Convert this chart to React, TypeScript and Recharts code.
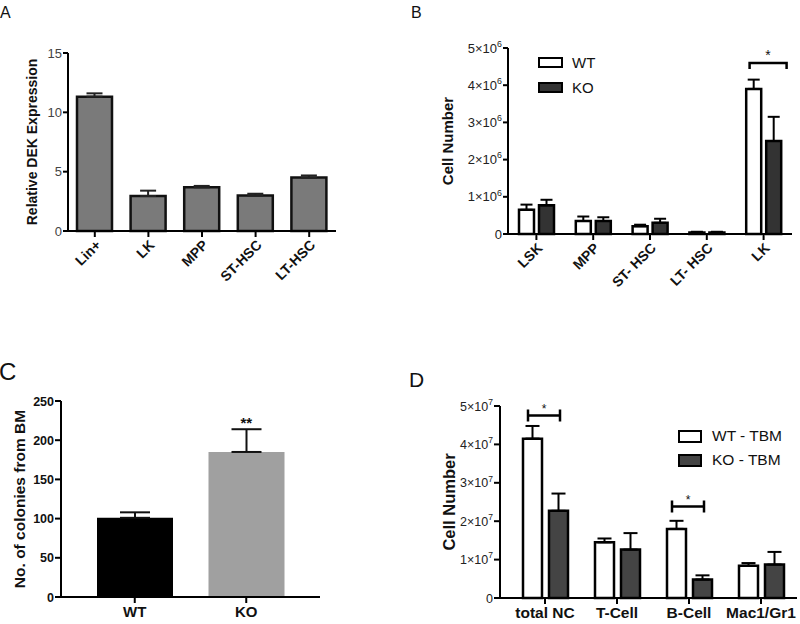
import React from "react";
import { BarChart, Bar, XAxis, YAxis, ErrorBar, Cell, Legend, ReferenceDot } from "recharts";

const FONT = "'Liberation Sans', Arial, Helvetica, sans-serif";

// Panel A - relative DEK expression
const aCategories = ["Lin+", "LK", "MPP", "ST-HSC", "LT-HSC"];
const aValues = [11.32, 2.95, 3.68, 3.0, 4.5];
const aErrors = [0.28, 0.45, 0.12, 0.14, 0.18];
const aTicks = [0, 5, 10, 15];

// Panel B - cell numbers WT vs KO
const bCategories = ["LSK", "MPP", "ST- HSC", "LT- HSC", "LK"];
const bSeries = ["WT", "KO"];
const bWT = [650000, 350000, 210000, 40000, 3900000];
const bWTErr = [140000, 120000, 40000, 20000, 250000];
const bKO = [770000, 350000, 300000, 40000, 2500000];
const bKOErr = [150000, 100000, 110000, 20000, 650000];
const bTicks = [0, 1e6, 2e6, 3e6, 4e6, 5e6];
const bSig = [{ category: "LK", y: 4.6e6, label: "*" }];

// Panel C - colonies from BM
const cCategories = ["WT", "KO"];
const cValues = [101, 185];
const cErrors = [7, 29];
const cColors = ["#000000", "#a0a0a0"];
const cTicks = [0, 50, 100, 150, 200, 250];
const cSig = [{ category: "KO", label: "**" }];

// Panel D - total BM cell numbers
const dCategories = ["total NC", "T-Cell", "B-Cell", "Mac1/Gr1"];
const dSeries = ["WT - TBM", "KO - TBM"];
const dWT = [4.15e7, 1.45e7, 1.8e7, 0.84e7];
const dWTErr = [0.33e7, 0.1e7, 0.21e7, 0.07e7];
const dKO = [2.27e7, 1.26e7, 0.48e7, 0.87e7];
const dKOErr = [0.45e7, 0.43e7, 0.11e7, 0.33e7];
const dTicks = [0, 1e7, 2e7, 3e7, 4e7, 5e7];
const dSig = [
  { category: "total NC", y: 4.75e7, label: "*" },
  { category: "B-Cell", y: 2.38e7, label: "*" },
];

const aData = aCategories.map((name, i) => ({ name, value: aValues[i], err: [0, aErrors[i]] }));
const bData = bCategories.map((name, i) => ({
  name,
  wt: bWT[i],
  wtErr: [0, bWTErr[i]],
  ko: bKO[i],
  koErr: [0, bKOErr[i]],
}));
const cData = cCategories.map((name, i) => ({ name, value: cValues[i], err: [0, cErrors[i]] }));
const dData = dCategories.map((name, i) => ({
  name,
  wt: dWT[i],
  wtErr: [0, dWTErr[i]],
  ko: dKO[i],
  koErr: [0, dKOErr[i]],
}));

const axisLine = { stroke: "#000", strokeWidth: 2 };

function SciTick(props: any) {
  const { x, y, payload, exp, fontSize } = props;
  const v = payload.value;
  const m = Math.round(v / Math.pow(10, exp));
  return (
    <text x={x} y={y} dy={fontSize * 0.36} textAnchor="end" fontFamily={FONT} fontSize={fontSize} fill="#222">
      {v === 0 ? "0" : m + "\u00d710"}
      {v !== 0 && (
        <tspan dy={-fontSize * 0.45} fontSize={fontSize * 0.68}>
          {exp}
        </tspan>
      )}
    </text>
  );
}

function NumTick(props: any) {
  const { x, y, payload, fontSize, bold, fill } = props;
  return (
    <text x={x} y={y} dy={fontSize * 0.36} textAnchor="end" fontFamily={FONT} fontSize={fontSize}
      fontWeight={bold ? "bold" : "normal"} fill={fill}>
      {payload.value}
    </text>
  );
}

function RotTick(props: any) {
  const { x, y, payload, fontSize } = props;
  return (
    <g transform={`translate(${x},${y})`}>
      <text x={0} y={0} dy={fontSize * 0.7} textAnchor="end" transform="rotate(-45)" fontFamily={FONT}
        fontSize={fontSize} fontWeight="bold" fill="#111">
        {payload.value}
      </text>
    </g>
  );
}

function FlatTick(props: any) {
  const { x, y, payload, fontSize } = props;
  return (
    <text x={x} y={y} dy={fontSize * 0.8} textAnchor="middle" fontFamily={FONT} fontSize={fontSize}
      fontWeight="bold" fill="#111">
      {payload.value}
    </text>
  );
}

function BoxLegend(props: any) {
  const { payload, order, boxW, boxH, rowH, fontSize, gap } = props;
  const items = [...(payload || [])].sort((a: any, b: any) => order.indexOf(a.value) - order.indexOf(b.value));
  return (
    <div style={{ fontFamily: FONT, fontSize, color: "#111" }}>
      {items.map((e: any) => (
        <div key={e.value} style={{ display: "flex", alignItems: "center", height: rowH }}>
          <span
            style={{
              display: "inline-block",
              width: boxW,
              height: boxH,
              boxSizing: "border-box",
              border: "2.5px solid #000",
              background: e.payload?.fill ?? e.color,
              marginRight: gap,
            }}
          />
          <span>{e.value}</span>
        </div>
      ))}
    </div>
  );
}

function bracketShape(left: number, right: number, tick: number, kind: "down" | "h", starSize: number, label: string) {
  return (p: any) => {
    const { cx, cy } = p;
    const x1 = cx + left;
    const x2 = cx + right;
    const d =
      kind === "down"
        ? `M${x1},${cy + tick}V${cy}H${x2}V${cy + tick}`
        : `M${x1},${cy - tick}V${cy + tick}M${x1},${cy}H${x2}M${x2},${cy - tick}V${cy + tick}`;
    return (
      <g>
        <path d={d} fill="none" stroke="#000" strokeWidth={2.5} />
        <text x={(x1 + x2) / 2} y={cy - 3} textAnchor="middle" fontFamily={FONT} fontSize={starSize} fill="#111">
          {label}
        </text>
      </g>
    );
  };
}

function starShape(label: string, size: number) {
  return (p: any) => (
    <text x={p.cx} y={p.cy - 1} textAnchor="middle" fontFamily={FONT} fontSize={size} fontWeight="bold" fill="#111">
      {label}
    </text>
  );
}

function yLabel(value: string, offset: number, fontSize: number) {
  return {
    value,
    angle: -90,
    position: "insideLeft" as const,
    offset,
    style: { textAnchor: "middle", fontFamily: FONT, fontSize, fontWeight: "bold", fill: "#111" },
  };
}

const letters = [
  { t: "A", x: 0, y: 18, size: 16 },
  { t: "B", x: 411, y: 18, size: 16 },
  { t: "C", x: -1, y: 380, size: 24 },
  { t: "D", x: 409, y: 387, size: 21 },
];

export default function App() {
  return (
    <div style={{ position: "absolute", left: 0, top: 0, width: 800, height: 624, background: "#fff", overflow: "hidden" }}>
      <div style={{ position: "absolute", left: 0, top: 0 }}>
        <BarChart width={400} height={310} data={aData} margin={{ top: 53, right: 64, bottom: 0, left: 0 }}>
          <XAxis dataKey="name" interval={0} height={79} axisLine={axisLine} tickLine={axisLine} tickSize={6}
            tickMargin={2} tick={(p: any) => <RotTick {...p} fontSize={14} />} />
          <YAxis domain={[0, 15]} ticks={aTicks} interval={0} width={68} axisLine={axisLine} tickLine={axisLine}
            tickSize={5} tickMargin={1} tick={(p: any) => <NumTick {...p} fontSize={13} fill="#444" />}
            label={yLabel("Relative DEK Expression", 32, 14)} />
          <Bar dataKey="value" barSize={35} fill="#7a7a7a" stroke="#111" strokeWidth={2.5} isAnimationActive={false}>
            <ErrorBar dataKey="err" width={8} stroke="#222" strokeWidth={2} direction="y" />
          </Bar>
        </BarChart>
      </div>

      <div style={{ position: "absolute", left: 400, top: 0 }}>
        <BarChart width={400} height={310} data={bData} margin={{ top: 48, right: 8, bottom: 0, left: 0 }}
          barGap={5}>
          <XAxis dataKey="name" interval={0} height={76} axisLine={axisLine} tickLine={axisLine} tickSize={6}
            tickMargin={2} tick={(p: any) => <RotTick {...p} fontSize={14} />} />
          <YAxis domain={[0, 5e6]} ticks={bTicks} interval={0} width={108} axisLine={axisLine} tickLine={axisLine}
            tickSize={5} tickMargin={1} tick={(p: any) => <SciTick {...p} exp={6} fontSize={13} />}
            label={yLabel("Cell Number", 48, 15)} />
          <Legend layout="vertical" align="center" verticalAlign="middle"
            wrapperStyle={{ left: 138, top: 50, width: "auto" }}
            content={(p: any) => <BoxLegend {...p} order={bSeries} boxW={25} boxH={11} rowH={25} fontSize={15} gap={9} />} />
          <Bar dataKey="wt" name={bSeries[0]} barSize={15} fill="#ffffff" stroke="#000" strokeWidth={2.5} isAnimationActive={false}>
            <ErrorBar dataKey="wtErr" width={6} stroke="#000" strokeWidth={2} direction="y" />
          </Bar>
          <Bar dataKey="ko" name={bSeries[1]} barSize={15} fill="#333333" stroke="#000" strokeWidth={2.5} isAnimationActive={false}>
            <ErrorBar dataKey="koErr" width={6} stroke="#000" strokeWidth={2} direction="y" />
          </Bar>
          {bSig.map((s) => (
            <ReferenceDot key={s.category} x={s.category} y={s.y} r={0} isFront
              shape={bracketShape(-14, 23, 6, "down", 14, s.label)} />
          ))}
        </BarChart>
      </div>

      <div style={{ position: "absolute", left: 0, top: 320 }}>
        <BarChart width={400} height={304} data={cData} margin={{ top: 81, right: 80, bottom: 0, left: 0 }}>
          <XAxis dataKey="name" interval={0} height={27} padding={{ left: 18, right: 18 }} axisLine={axisLine}
            tickLine={axisLine} tickSize={6} tickMargin={2} tick={(p: any) => <FlatTick {...p} fontSize={15} />} />
          <XAxis xAxisId="err" dataKey="name" hide padding={{ left: 18, right: 18 }} />
          <YAxis domain={[0, 250]} ticks={cTicks} interval={0} width={61} axisLine={axisLine} tickLine={axisLine}
            tickSize={6} tickMargin={1} tick={(p: any) => <NumTick {...p} fontSize={12.5} bold fill="#111" />}
            label={yLabel("No. of colonies from BM", 19, 15.5)} />
          <Bar xAxisId="err" dataKey="value" barSize={76} fill="transparent" isAnimationActive={false}>
            <ErrorBar dataKey="err" width={15} stroke="#111" strokeWidth={2} direction="y" />
          </Bar>
          <Bar dataKey="value" barSize={76} isAnimationActive={false}>
            {cData.map((d, i) => (
              <Cell key={d.name} fill={cColors[i]} />
            ))}
          </Bar>
          {cSig.map((s) => {
            const i = cCategories.indexOf(s.category);
            return (
              <ReferenceDot key={s.category} x={s.category} y={cValues[i] + cErrors[i]} r={0} isFront
                shape={starShape(s.label, 15)} />
            );
          })}
        </BarChart>
      </div>

      <div style={{ position: "absolute", left: 400, top: 320 }}>
        <BarChart width={400} height={304} data={dData} margin={{ top: 86, right: 3, bottom: 0, left: 0 }}
          barGap={7}>
          <XAxis dataKey="name" interval={0} height={26} padding={{ left: 9, right: 0 }} axisLine={axisLine}
            tickLine={axisLine} tickSize={6} tickMargin={2} tick={(p: any) => <FlatTick {...p} fontSize={15.5} />} />
          <YAxis domain={[0, 5e7]} ticks={dTicks} interval={0} width={100} axisLine={axisLine} tickLine={axisLine}
            tickSize={6} tickMargin={1} tick={(p: any) => <SciTick {...p} exp={7} fontSize={12.5} />}
            label={yLabel("Cell Number", 49, 16.5)} />
          <Legend layout="vertical" align="center" verticalAlign="middle"
            wrapperStyle={{ left: 278, top: 104, width: "auto" }}
            content={(p: any) => <BoxLegend {...p} order={dSeries} boxW={24} boxH={13} rowH={24} fontSize={15.5} gap={10} />} />
          <Bar dataKey="wt" name={dSeries[0]} barSize={19} fill="#ffffff" stroke="#000" strokeWidth={2.5} isAnimationActive={false}>
            <ErrorBar dataKey="wtErr" width={7} stroke="#000" strokeWidth={2} direction="y" />
          </Bar>
          <Bar dataKey="ko" name={dSeries[1]} barSize={19} fill="#444444" stroke="#000" strokeWidth={2.5} isAnimationActive={false}>
            <ErrorBar dataKey="koErr" width={7} stroke="#000" strokeWidth={2} direction="y" />
          </Bar>
          {dSig.map((s) => (
            <ReferenceDot key={s.category} x={s.category} y={s.y} r={0} isFront
              shape={bracketShape(-17, 15, 6, "h", 12, s.label)} />
          ))}
        </BarChart>
      </div>

      <svg width={800} height={624} style={{ position: "absolute", left: 0, top: 0, pointerEvents: "none" }}>
        {letters.map((l) => (
          <text key={l.t} x={l.x} y={l.y} fontFamily={FONT} fontSize={l.size} fill="#111">
            {l.t}
          </text>
        ))}
      </svg>
    </div>
  );
}
